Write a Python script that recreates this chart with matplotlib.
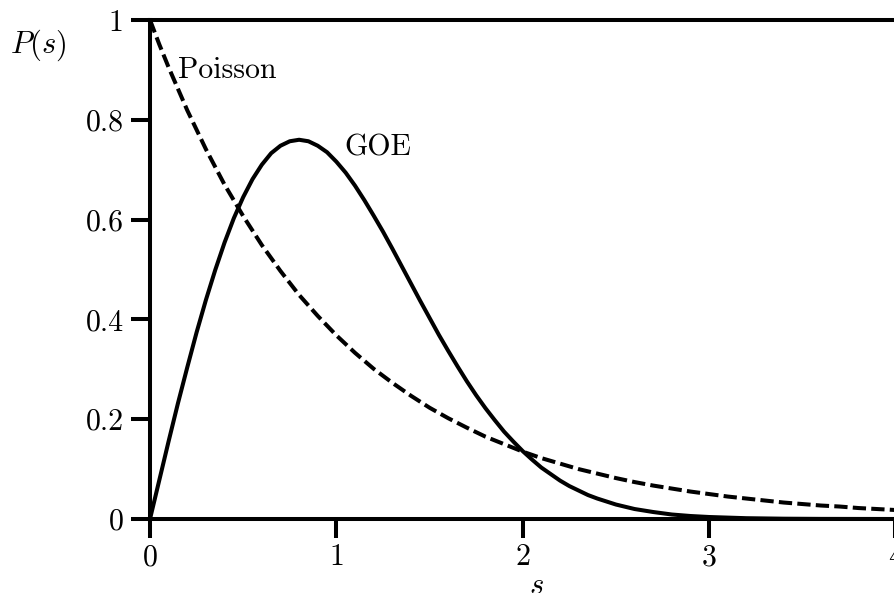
import matplotlib
matplotlib.use("Agg")
import matplotlib.pyplot as plt

plt.rcParams['font.family'] = 'serif'
plt.rcParams['font.serif'] = ['cmr10']
plt.rcParams['mathtext.fontset'] = 'cm'
plt.rcParams['axes.formatter.use_mathtext'] = True

s_poisson = [0.0, 0.05, 0.1, 0.2, 0.3, 0.4, 0.5, 0.6, 0.7, 0.8, 0.9, 1.0,
             1.1, 1.2, 1.3, 1.4, 1.5, 1.6, 1.7, 1.8, 1.9, 2.0,
             2.1, 2.2, 2.3, 2.4, 2.5, 2.6, 2.7, 2.8, 2.9, 3.0,
             3.1, 3.2, 3.3, 3.4, 3.5, 3.6, 3.7, 3.8, 3.9, 4.0]
poisson = [1.000, 0.951, 0.905, 0.819, 0.741, 0.670, 0.607, 0.549, 0.497, 0.449, 0.407, 0.368,
           0.333, 0.301, 0.273, 0.247, 0.223, 0.202, 0.183, 0.165, 0.150, 0.135,
           0.122, 0.111, 0.100, 0.091, 0.082, 0.074, 0.067, 0.061, 0.055, 0.050,
           0.045, 0.041, 0.037, 0.033, 0.030, 0.027, 0.025, 0.022, 0.020, 0.018]

s_goe = [0.0, 0.05, 0.1, 0.15, 0.2, 0.25, 0.3, 0.35, 0.4, 0.45, 0.5, 0.55, 0.6, 0.65,
         0.7, 0.75, 0.8, 0.85, 0.9, 0.95, 1.0, 1.05, 1.1, 1.15, 1.2, 1.25, 1.3, 1.35,
         1.4, 1.45, 1.5, 1.55, 1.6, 1.65, 1.7, 1.75, 1.8, 1.85, 1.9, 1.95, 2.0, 2.05,
         2.1, 2.15, 2.2, 2.25, 2.3, 2.35, 2.4, 2.45, 2.5, 2.6, 2.7, 2.8, 2.9, 3.0,
         3.2, 3.4, 3.6, 3.8, 4.0]
goe = [0.000, 0.078, 0.156, 0.232, 0.304, 0.374, 0.439, 0.499, 0.554, 0.603, 0.645,
       0.681, 0.710, 0.733, 0.748, 0.757, 0.760, 0.757, 0.748, 0.735, 0.716,
       0.694, 0.668, 0.639, 0.608, 0.576, 0.542, 0.507, 0.472, 0.437, 0.403,
       0.369, 0.337, 0.306, 0.276, 0.248, 0.222, 0.198, 0.175, 0.155, 0.136,
       0.119, 0.103, 0.090, 0.077, 0.066, 0.057, 0.048, 0.041, 0.035, 0.029,
       0.020, 0.014, 0.009, 0.006, 0.004, 0.0016, 0.0006, 0.0002, 0.0001, 0.0000]

xticks = [0, 1, 2, 3, 4]
yticks = [0, 0.2, 0.4, 0.6, 0.8, 1]
ytick_labels = ['0', '0.2', '0.4', '0.6', '0.8', '1']

fig = plt.figure(figsize=(8.95, 5.93), dpi=100)
ax = fig.add_axes([150/895, 74/593, 745.5/895, 499/593])

lw = 2.9
ax.plot(s_goe, goe, color='black', lw=lw, clip_on=False,
        solid_joinstyle='round', solid_capstyle='butt')
ax.plot(s_poisson, poisson, color='black', lw=lw, linestyle='--', dashes=(3.3, 1.3),
        clip_on=False)

ax.set_xlim(0, 4)
ax.set_ylim(0, 1)
ax.set_xticks(xticks)
ax.set_xticklabels([str(t) for t in xticks])
ax.set_yticks(yticks)
ax.set_yticklabels(ytick_labels)

for side in ['left', 'bottom', 'top']:
    ax.spines[side].set_linewidth(lw)
ax.spines['right'].set_visible(False)

ax.tick_params(axis='both', direction='out', length=14, width=lw, labelsize=21.5)
ax.tick_params(axis='y', pad=5)
ax.tick_params(axis='x', pad=4)

ax.set_xlabel('$s$', fontsize=22)
ax.xaxis.set_label_coords(0.518, -0.107)
fig.text(38/895, 1 - 45/593, '$P(s)$', fontsize=22, ha='center', va='center')

ax.text(0.15, 0.90, 'Poisson', fontsize=21.5, ha='left', va='center')
ax.text(1.045, 0.743, 'GOE', fontsize=21.5, ha='left', va='center')

fig.savefig('out.png', dpi=100)
